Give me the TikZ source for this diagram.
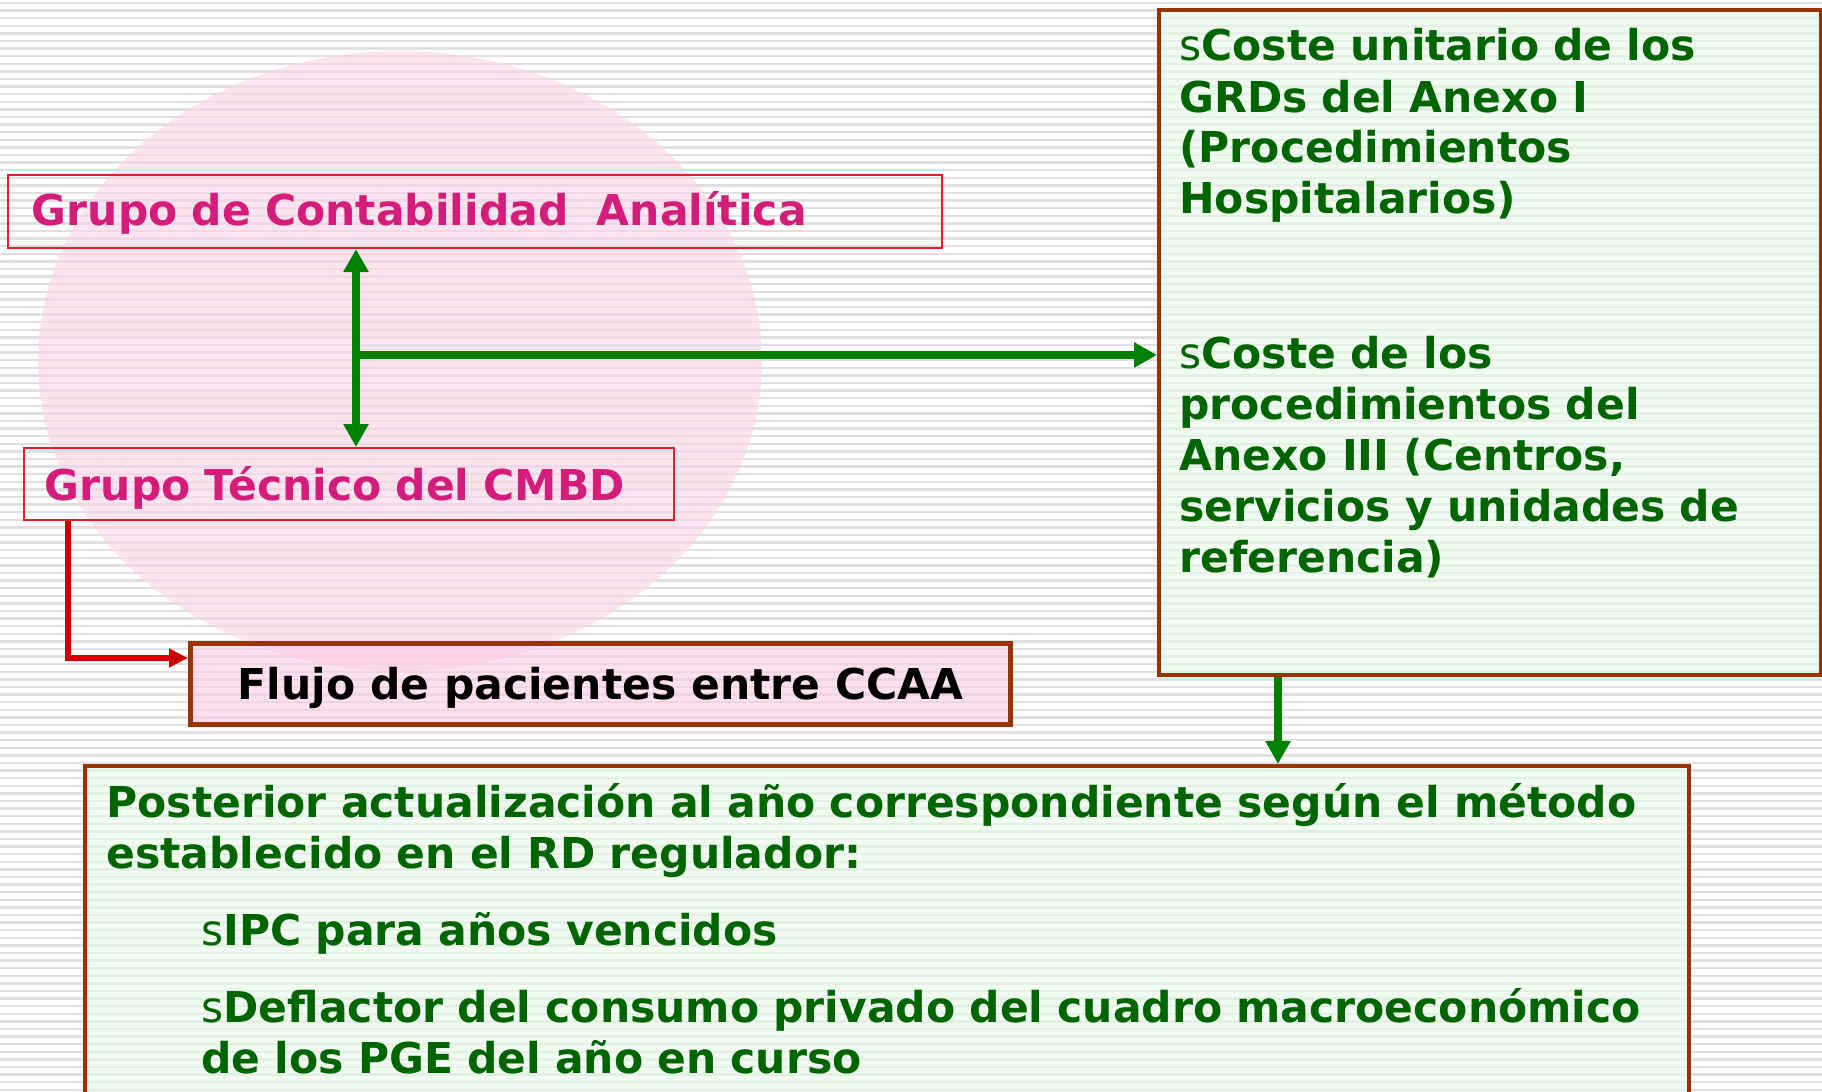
\documentclass[tikz,border=0pt]{standalone}
\usepackage{fontspec}
\setmainfont{DejaVu Sans}
\usetikzlibrary{arrows.meta}
\definecolor{txtgreen}{RGB}{0,100,0}
\definecolor{arrgreen}{RGB}{0,128,0}
\definecolor{magc}{RGB}{212,28,122}
\definecolor{boxredc}{RGB}{226,30,40}
\definecolor{arrred}{RGB}{204,0,0}
\definecolor{brownc}{RGB}{153,51,0}
\definecolor{pinkc}{RGB}{252,212,231}
\definecolor{boxpink}{RGB}{252,205,228}
\definecolor{greenc}{RGB}{233,250,233}
\definecolor{stripec}{RGB}{224,224,224}
\begin{document}
\begin{tikzpicture}[x=0.5pt,y=-0.5pt,
  every node/.style={font=\fontsize{21.25pt}{25.5pt}\selectfont\bfseries, inner sep=0pt},
  stripe/.style={draw=stripec, line width=1.15pt},
  boxred/.style={draw=boxredc, line width=1pt},
  boxbrown/.style={draw=brownc, line width=2pt},
  greentext/.style={text=txtgreen, anchor=base west, align=left},
  garrow/.style={draw=arrgreen, line width=3.75pt, -{Triangle[length=11.5pt,width=12pt]}},
  garrowboth/.style={draw=arrgreen, line width=3.75pt, {Triangle[length=11.5pt,width=12pt]}-{Triangle[length=11.5pt,width=12pt]}},
  rarrow/.style={draw=arrred, line width=2.8pt, -{Triangle[length=9.5pt,width=9pt]}}
]
\clip (0,0) rectangle (1822,1092);
\fill[white] (0,0) rectangle (1822,1092);
\foreach \i in {0,...,143} \draw[stripe] (0,{3+\i*7.6}) -- (1822,{3+\i*7.6});
\fill[pinkc, fill opacity=0.6] (400,361) ellipse [x radius=362, y radius=310];

% boxes
\node[boxred, anchor=north west, minimum height=36.5pt, text width=443pt, inner xsep=12pt,
      align=left, text height=15pt, text depth=1.5pt, text=magc] (g1) at (7,174)
      {Grupo de Contabilidad\ \ Analítica};
\node[boxred, anchor=north west, minimum height=36pt, text width=304pt, inner xsep=10.5pt,
      align=left, text height=16.5pt, text depth=0.5pt, text=magc] (g2) at (23,447)
      {Grupo Técnico del CMBD};
\node[draw=brownc, line width=2.5pt, fill=boxpink, fill opacity=0.6, text opacity=1,
      anchor=north west, minimum width=410pt, minimum height=40.5pt,
      text height=16pt, text depth=0.5pt, text=black] (flujo) at (188,641)
      {Flujo de pacientes entre CCAA};
\node[boxbrown, fill=greenc, fill opacity=0.6, anchor=north west,
      minimum width=331pt, minimum height=332.5pt] (coste) at (1157,8) {};
\node[boxbrown, fill=greenc, fill opacity=0.6, anchor=north west,
      minimum width=802pt, minimum height=175pt] (post) at (83,764) {};

% texts in the green boxes
\node[greentext, text width=320pt] (ca) at (1179,61)
  {{\mdseries s}Coste unitario de los\\GRDs del Anexo I\\(Procedimientos\\Hospitalarios)};
\node[greentext, text width=320pt] (cb) at (1179,368)
  {{\mdseries s}Coste de los\\procedimientos del\\Anexo III (Centros,\\servicios y unidades de\\referencia)};
\node[greentext, text width=790pt] (pa) at (106,817)
  {Posterior actualización al año correspondiente según el método\\establecido en el RD regulador:};
\node[greentext, text width=740pt] (pb) at (201,945)
  {{\mdseries s}IPC para años vencidos};
\node[greentext, text width=740pt] (pc) at (201,1022)
  {{\mdseries s}Deflactor del consumo privado del cuadro macroeconómico\\de los PGE del año en curso};

% connectors
\coordinate (j) at (356,355);
\coordinate (d) at (1278,700);
\coordinate (r) at (68,658);
\draw[garrowboth] (g1.south -| j) -- (g2.north -| j);
\draw[garrow] (j) -- (coste.west |- j);
\draw[garrow] (coste.south -| d) -- (post.north -| d);
\draw[rarrow] (g2.south -| r) |- (flujo.west |- r);
\end{tikzpicture}
\end{document}
